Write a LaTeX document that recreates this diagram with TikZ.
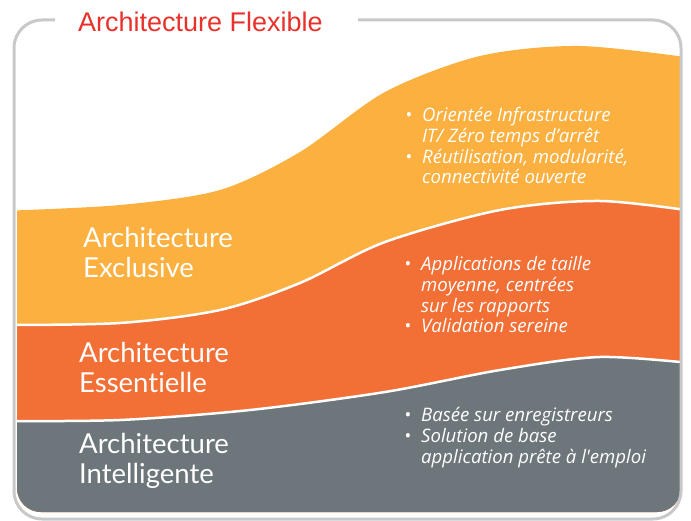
\documentclass[tikz,border=0pt]{standalone}
\usepackage{fontspec}
\setmainfont{Lato}[Ligatures=NoCommon]
\newfontfamily\titlefont{Liberation Sans}
\newfontfamily\notefont{Open Sans}[Ligatures=NoCommon]
\usetikzlibrary{positioning}

\definecolor{flexorange}{HTML}{FBB040}
\definecolor{exclred}{HTML}{F26F36}
\definecolor{intgray}{HTML}{6D767B}
\definecolor{titlered}{HTML}{E8312A}
\definecolor{framegray}{HTML}{C8C8C8}

\tikzset{
  bandlabel/.style={anchor=base west, align=left, inner sep=0pt, text=white,
    font=\fontsize{27.5}{30}\selectfont},
  bulletlist/.style={anchor=base west, align=left, inner sep=0pt, text=white,
    font=\notefont\fontsize{18.6}{20.7}\selectfont\itshape},
  bandline/.style={draw=white, line width=2.5pt},
}
\newcommand\bul{\llap{\textbullet\hspace{10pt}}}

\begin{document}
\begin{tikzpicture}[x=1pt,y=-1pt]
\useasboundingbox (0,0) rectangle (691,521);
\begin{scope}
\clip[rounded corners=24pt] (17,0) rectangle (681,512);
% draws bands
\fill[flexorange] plot[smooth] coordinates {(0,211) (120,205) (220,190) (300,152) (385,92) (480,56) (580,46) (700,59)}
  -- (700,530) -- (0,530) -- cycle;
\filldraw[exclred, bandline] plot[smooth] coordinates {(0,325) (120,323) (220,310) (300,283) (385,242) (500,210) (600,201) (700,212)}
  -- (700,530) -- (0,530) -- cycle;
\filldraw[intgray, bandline] plot[smooth] coordinates {(0,421) (120,420) (250,410) (385,392) (500,370) (600,357) (700,364)}
  -- (700,530) -- (0,530) -- cycle;
\end{scope}
% draws frame
\draw[framegray, line width=3pt, rounded corners=28pt] (55,20) -- (14,20) -- (14,519) -- (681,519) -- (681,20) -- (358,20);
% labels (base = last line)
\node[anchor=base west, inner sep=0pt, text=titlered, font=\titlefont\fontsize{27}{30}\selectfont] (title) at (78,32) {Architecture Flexible};
\node[bandlabel] (exclusive) at (83,278) {Architecture\\Exclusive};
\node[bandlabel] (essential) at (79,392) {Architecture\\Essentielle};
\node[bandlabel] (intelligent) at (79,483) {Architecture\\Intelligente};
% bullet texts
\node[bulletlist] (flexnotes) at (422,184) {\bul Orientée Infrastructure\\IT/ Zéro temps d’arrêt\\\bul Réutilisation, modularité,\\connectivité ouverte};
\node[bulletlist] (exclnotes) at (421,333) {\bul Applications de taille\\moyenne, centrées\\sur les rapports\\\bul Validation sereine};
\node[bulletlist] (intnotes) at (421,463) {\bul Basée sur enregistreurs\\\bul Solution de base\\application prête à l\textquotesingle emploi};
\end{tikzpicture}
\end{document}
